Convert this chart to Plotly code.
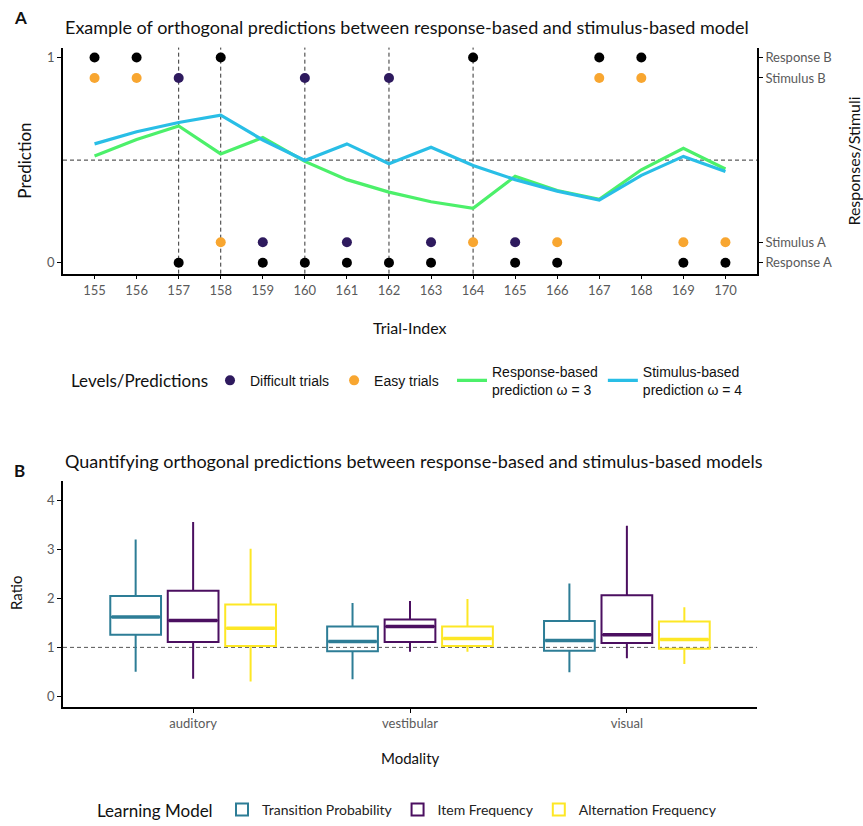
import plotly.graph_objects as go

# ---------------- Panel A data ----------------
trials = [155, 156, 157, 158, 159, 160, 161, 162, 163, 164, 165, 166, 167, 168, 169, 170]
responses = ["B", "B", "A", "B", "A", "A", "A", "A", "A", "B", "A", "A", "B", "B", "A", "A"]
stimuli = ["B", "B", "B", "A", "A", "B", "A", "B", "A", "A", "A", "A", "B", "B", "A", "A"]
difficulty = ["easy", "easy", "difficult", "easy", "difficult", "difficult", "difficult",
              "difficult", "difficult", "easy", "difficult", "easy", "easy", "easy", "easy", "easy"]
response_pred = [0.52, 0.60, 0.666, 0.53, 0.61, 0.494, 0.405, 0.344, 0.297, 0.265,
                 0.421, 0.352, 0.309, 0.453, 0.558, 0.457]
stimulus_pred = [0.579, 0.638, 0.683, 0.719, 0.598, 0.498, 0.579, 0.482, 0.563, 0.474,
                 0.405, 0.349, 0.305, 0.426, 0.518, 0.445]

# where each level sits on the right-hand axis
level_pos = {"Response B": 1.0, "Stimulus B": 0.9, "Stimulus A": 0.1, "Response A": 0.0}

# ---------------- Panel B data ----------------
modalities = ["auditory", "vestibular", "visual"]
models = ["Transition Probability", "Item Frequency", "Alternation Frequency"]
lower = {
    "Transition Probability": [0.50, 0.35, 0.49],
    "Item Frequency": [0.36, 0.91, 0.78],
    "Alternation Frequency": [0.30, 0.91, 0.66],
}
q1 = {
    "Transition Probability": [1.26, 0.92, 0.93],
    "Item Frequency": [1.11, 1.11, 1.09],
    "Alternation Frequency": [1.03, 1.03, 0.97],
}
median = {
    "Transition Probability": [1.62, 1.12, 1.14],
    "Item Frequency": [1.55, 1.43, 1.26],
    "Alternation Frequency": [1.39, 1.18, 1.16],
}
q3 = {
    "Transition Probability": [2.05, 1.43, 1.54],
    "Item Frequency": [2.16, 1.57, 2.07],
    "Alternation Frequency": [1.88, 1.43, 1.53],
}
upper = {
    "Transition Probability": [3.21, 1.91, 2.31],
    "Item Frequency": [3.57, 1.95, 3.49],
    "Alternation Frequency": [3.02, 1.99, 1.82],
}

# ---------------- styling ----------------
W, H = 863, 826
FONT = "Lato"
LEG_FONT = "Liberation Sans"
TICK_COL = "#5a5a5a"
PURPLE_PT = "#2E1A5E"
ORANGE_PT = "#F8A630"
GREEN = "#4CF06A"
BLUE = "#29BEE6"
model_colors = {
    "Transition Probability": "#2D7D96",
    "Item Frequency": "#4B0F60",
    "Alternation Frequency": "#FDE725",
}


def px_x(p):
    return p / W


def px_y(p):
    return 1 - p / H


# plot-area rectangles (pixels)
L, R = 63, 757
A_TOP, A_BOT = 48, 276
B_TOP, B_BOT = 485, 713

fig = go.Figure()

# ---- Panel A: prediction lines ----
fig.add_trace(go.Scatter(
    x=trials, y=response_pred, mode="lines",
    line=dict(color=GREEN, width=3.2),
    name="Response-based<br>prediction \u03c9 = 3", legend="legend3",
    xaxis="x", yaxis="y", legendrank=1,
))
fig.add_trace(go.Scatter(
    x=trials, y=stimulus_pred, mode="lines",
    line=dict(color=BLUE, width=3.2),
    name="Stimulus-based<br>prediction \u03c9 = 4", legend="legend3",
    xaxis="x", yaxis="y", legendrank=2,
))

# ---- Panel A: responses (black) ----
fig.add_trace(go.Scatter(
    x=trials, y=[level_pos["Response " + r] for r in responses], mode="markers",
    marker=dict(color="black", size=10),
    showlegend=False, xaxis="x", yaxis="y2",
))

# ---- Panel A: stimuli by difficulty ----
for rank, (level, col, label) in enumerate([("difficult", PURPLE_PT, "Difficult trials"),
                                            ("easy", ORANGE_PT, "Easy trials")], start=1):
    xs = [t for t, d in zip(trials, difficulty) if d == level]
    ys = [level_pos["Stimulus " + s] for s, d in zip(stimuli, difficulty) if d == level]
    fig.add_trace(go.Scatter(
        x=xs, y=ys, mode="markers",
        marker=dict(color=col, size=10),
        name=label, legend="legend", xaxis="x", yaxis="y2", legendrank=rank,
    ))

shapes = []
# dashed verticals on trials where the response differs from the stimulus
for t, r, s in zip(trials, responses, stimuli):
    if r != s:
        shapes.append(dict(type="line", xref="x", yref="y domain", x0=t, x1=t, y0=0, y1=1,
                           line=dict(color="#333", width=1, dash="4px,3px"), layer="below"))
# chance level
shapes.append(dict(type="line", xref="x domain", yref="y", x0=0, x1=1, y0=0.5, y1=0.5,
                   line=dict(color="#333", width=1, dash="4px,3px"), layer="below"))

# ---- Panel B: boxes ----
offsets = [-0.265, 0.0, 0.265]
box_w = 0.234
for m, off in zip(models, offsets):
    xs = [i + off for i in range(len(modalities))]
    fig.add_trace(go.Box(
        x=xs, q1=q1[m], median=median[m], q3=q3[m],
        lowerfence=lower[m], upperfence=upper[m],
        width=box_w, whiskerwidth=0, boxpoints=False,
        line=dict(color=model_colors[m], width=2),
        fillcolor="rgba(255,255,255,0)",
        name=m, legend="legend2", xaxis="x2", yaxis="y3", hoverinfo="skip",
    ))
    # thicker median bar
    mx, my = [], []
    for x, md in zip(xs, median[m]):
        mx += [x - box_w / 2 + 0.006, x + box_w / 2 - 0.006, None]
        my += [md, md, None]
    fig.add_trace(go.Scatter(
        x=mx, y=my, mode="lines", line=dict(color=model_colors[m], width=3.5),
        showlegend=False, xaxis="x2", yaxis="y3", hoverinfo="skip",
    ))

shapes.append(dict(type="line", xref="x2 domain", yref="y3", x0=0, x1=1, y0=1, y1=1,
                   line=dict(color="#555", width=1, dash="4px,3px"), layer="below"))

axis_common = dict(showgrid=False, zeroline=False, showline=True, linecolor="black",
                   linewidth=1.6, ticks="outside", ticklen=4, tickwidth=1.2,
                   tickcolor="black", tickfont=dict(family=FONT, size=13, color=TICK_COL),
                   automargin=False)

yA = [px_y(A_BOT), px_y(A_TOP)]
yB = [px_y(B_BOT), px_y(B_TOP)]
xd = [px_x(L), px_x(R)]
yrangeA = [-0.053, 1.048]

fig.update_layout(
    width=W, height=H,
    margin=dict(l=0, r=0, t=0, b=0),
    paper_bgcolor="white", plot_bgcolor="white",
    font=dict(family=FONT, color="#222"),
    showlegend=True,
    xaxis=dict(domain=xd, anchor="y", range=[154.25, 170.75], tickmode="array",
               tickvals=trials, **axis_common),
    yaxis=dict(domain=yA, anchor="x", range=yrangeA, tickvals=[0, 1], **axis_common),
    yaxis2=dict(overlaying="y", anchor="x", side="right", range=yrangeA,
                tickvals=list(level_pos.values()), ticktext=list(level_pos.keys()),
                **axis_common),
    xaxis2=dict(domain=xd, anchor="y3", range=[-0.6, 2.6], tickmode="array",
                tickvals=list(range(len(modalities))), ticktext=modalities, **axis_common),
    yaxis3=dict(domain=yB, anchor="x2", range=[-0.22, 4.41], tickvals=[0, 1, 2, 3, 4],
                **axis_common),
    shapes=shapes,
    legend=dict(orientation="h", x=px_x(210), y=px_y(384), xanchor="left", yanchor="middle",
                font=dict(family=LEG_FONT, size=14, color="#111"),
                bgcolor="rgba(0,0,0,0)", itemwidth=30, tracegroupgap=0),
    legend3=dict(orientation="h", x=px_x(452), y=px_y(384), xanchor="left", yanchor="middle",
                 valign="middle",
                 font=dict(family=LEG_FONT, size=14, color="#111"),
                 bgcolor="rgba(0,0,0,0)", itemwidth=30, tracegroupgap=0),
    legend2=dict(orientation="h", x=px_x(222), y=px_y(817), xanchor="left", yanchor="middle",
                 valign="middle",
                 font=dict(family=FONT, size=14, color="#222"),
                 bgcolor="rgba(0,0,0,0)", itemwidth=30),
)

ann = [
    dict(text="<b>A</b>", x=px_x(12), y=px_y(18), size=17, anchor=("left", "middle"), angle=0),
    dict(text="Example of orthogonal predictions between response-based and stimulus-based model",
         x=px_x(63), y=px_y(27), size=18, anchor=("left", "middle"), angle=0),
    dict(text="Prediction", x=px_x(25), y=px_y(162), size=17, anchor=("center", "middle"), angle=-90),
    dict(text="Responses/Stimuli", x=px_x(854), y=px_y(163), size=16, anchor=("center", "middle"), angle=-90),
    dict(text="Trial-Index", x=px_x(410), y=px_y(330), size=16, anchor=("center", "middle"), angle=0),
    dict(text="Levels/Predictions", x=px_x(69), y=px_y(384), size=17, anchor=("left", "middle"), angle=0),
    dict(text="<b>B</b>", x=px_x(12), y=px_y(475), size=17, anchor=("left", "middle"), angle=0),
    dict(text="Quantifying orthogonal predictions between response-based and stimulus-based models",
         x=px_x(63), y=px_y(465), size=18, anchor=("left", "middle"), angle=0),
    dict(text="Ratio", x=px_x(16), y=px_y(598), size=15, anchor=("center", "middle"), angle=-90),
    dict(text="Modality", x=px_x(410), y=px_y(764), size=15, anchor=("center", "middle"), angle=0),
    dict(text="Learning Model", x=px_x(95), y=px_y(817), size=17, anchor=("left", "middle"), angle=0),
]
for a in ann:
    fig.add_annotation(text=a["text"], x=a["x"], y=a["y"], xref="paper", yref="paper",
                       showarrow=False, textangle=a["angle"],
                       xanchor=a["anchor"][0], yanchor=a["anchor"][1],
                       font=dict(family=FONT, size=a["size"], color="#111"))

fig.write_html("out.html")
